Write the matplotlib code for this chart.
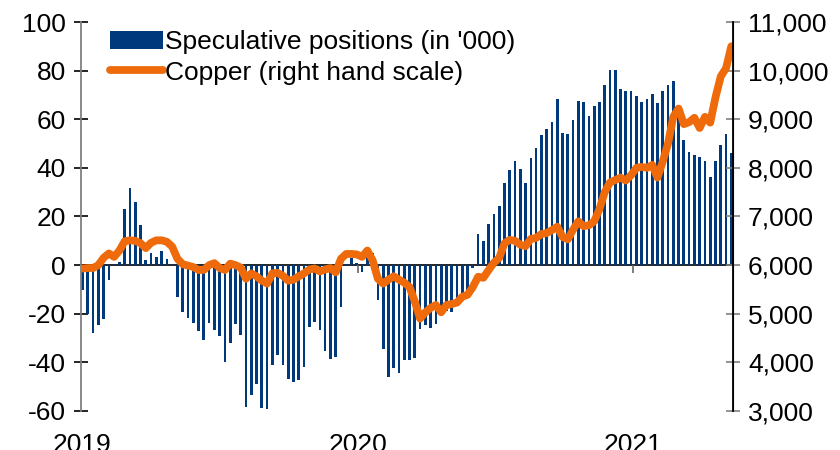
import numpy as np
import pandas as pd
import matplotlib
matplotlib.use("Agg")
import matplotlib.pyplot as plt
from matplotlib.ticker import FuncFormatter

plt.rcParams['font.family'] = ['Liberation Sans', 'DejaVu Sans']
plt.rcParams['font.size'] = 19
plt.rcParams['axes.unicode_minus'] = False

# weekly data, Jan 2019 - May 2021
start_date = '2019-01-01'
n_weeks = 124
weeks = pd.date_range(start_date, periods=n_weeks, freq='7D')

# net speculative positions (thousand contracts)
spec_positions = [
    -10.4, -20, -27.8, -24.7, -22, -6.3, 0.5, 1.4, 22.9, 31.6,
    26, 16.7, 2.3, 5.1, 3.4, 5.8, 2.6, 0.3, -13, -19.3,
    -21.7, -24, -26.9, -30.6, -24, -26.5, -29.2, -40, -32, -24.1,
    -28.8, -58.4, -53.6, -49.1, -58.7, -59, -41.2, -37, -40.9, -47,
    -48.1, -47.3, -41.8, -25.4, -23.3, -26.5, -35.4, -38.5, -37.8, -17.1,
    0.3, 3, 1, -3, 6.5, 5, -14.5, -34.4, -45.9, -42.2,
    -44.3, -39.2, -39.2, -38.1, -26.2, -24.8, -25.8, -24.4, -20.6, -18.9,
    -19.3, -16, -13, -10.5, -1, 12.6, 9.9, 17, 21.1, 24.3,
    33.9, 39, 42.8, 39.4, 33.9, 43.9, 48.3, 53.4, 56.1, 59,
    68.2, 54.5, 53.8, 59.5, 67.5, 67.2, 61.3, 65.4, 67.3, 74,
    80.2, 80.2, 72.3, 71.5, 71.5, 69.4, 67, 68.3, 70.4, 66.5,
    71.5, 74, 75.7, 66, 51.6, 46.5, 45.4, 44.4, 43, 36.2,
    43, 49.5, 53.9, 46,
]

# copper price (USD/t), right hand scale
copper = [
    5930, 5940, 5940, 6000, 6150, 6240, 6170, 6300, 6490, 6510,
    6500, 6450, 6350, 6460, 6510, 6510, 6480, 6380, 6130, 6020,
    5990, 5960, 5900, 5900, 6000, 6040, 5940, 5900, 6030, 6000,
    5950, 5720, 5830, 5770, 5680, 5620, 5830, 5840, 5780, 5680,
    5700, 5770, 5830, 5910, 5930, 5870, 5910, 5940, 5850, 6130,
    6230, 6230, 6220, 6170, 6300, 6100, 5720, 5620, 5700, 5770,
    5700, 5640, 5550, 5250, 4900, 5030, 5120, 5180, 5030, 5180,
    5200, 5230, 5350, 5390, 5550, 5760, 5740, 5900, 6050, 6150,
    6450, 6520, 6500, 6420, 6390, 6540, 6560, 6640, 6660, 6720,
    6790, 6580, 6530, 6730, 6900, 6800, 6820, 6900, 7150, 7500,
    7700, 7750, 7800, 7740, 7850, 8000, 8020, 8000, 8060, 7800,
    8130, 8500, 9050, 9220, 8900, 8940, 9030, 8820, 9050, 8930,
    9450, 9880, 10050, 10500,
]

year_ticks = ['2019-01-01', '2020-01-01', '2021-01-01']
year_labels = ['2019', '2020', '2021']

bar_color = '#003A7D'
line_color = '#EE6A0A'

fig = plt.figure(figsize=(8.4, 4.5), dpi=100)
ax = fig.add_axes([0.0964, 0.0867, 0.776, 0.8644])
ax2 = ax.twinx()

bars = ax.bar(weeks, spec_positions, width=3.6, color=bar_color, linewidth=0,
              label="Speculative positions (in '000)", zorder=2)
line, = ax2.plot(weeks, copper, color=line_color, linewidth=5.6,
                 solid_joinstyle='round', solid_capstyle='round',
                 label='Copper (right hand scale)')

ax.set_ylim(-60, 100)
ax.set_yticks(np.arange(-60, 101, 20))
ax2.set_ylim(3000, 11000)
ax2.set_yticks(np.arange(3000, 11001, 1000))
ax2.yaxis.set_major_formatter(FuncFormatter(lambda v, p: f'{v:,.0f}'))

ax.set_xlim(pd.Timestamp('2018-12-30'), pd.Timestamp('2021-05-13'))
tick_dates = pd.to_datetime(year_ticks)
ax.set_xticks(tick_dates)
ax.set_xticklabels(year_labels)
ax.tick_params(axis='x', length=0, pad=16)

# zero line with small year ticks
ax.axhline(0, color='black', linewidth=1.2, zorder=1)
ax.vlines(tick_dates, -3.4, 0, color='#666666', linewidth=1.2, zorder=1)

for a in (ax, ax2):
    a.spines['top'].set_visible(False)
    a.spines['bottom'].set_visible(False)
ax.spines['left'].set_color('#808080')
ax.spines['left'].set_linewidth(1.3)
ax2.spines['left'].set_visible(False)
ax2.spines['right'].set_color('black')
ax2.spines['right'].set_linewidth(1.3)
ax.tick_params(axis='y', direction='inout', length=10, width=1.2, pad=6)
ax2.tick_params(axis='y', direction='inout', length=10, width=1.2, pad=6,
                color='#808080')

ax.legend([bars, line], [bars.get_label(), line.get_label()],
          loc='upper left', bbox_to_anchor=(0.02, 1.02), frameon=False,
          handlelength=2.0, handletextpad=0.1, labelspacing=0.25,
          borderaxespad=0.2)

fig.savefig('out.png', dpi=100)
